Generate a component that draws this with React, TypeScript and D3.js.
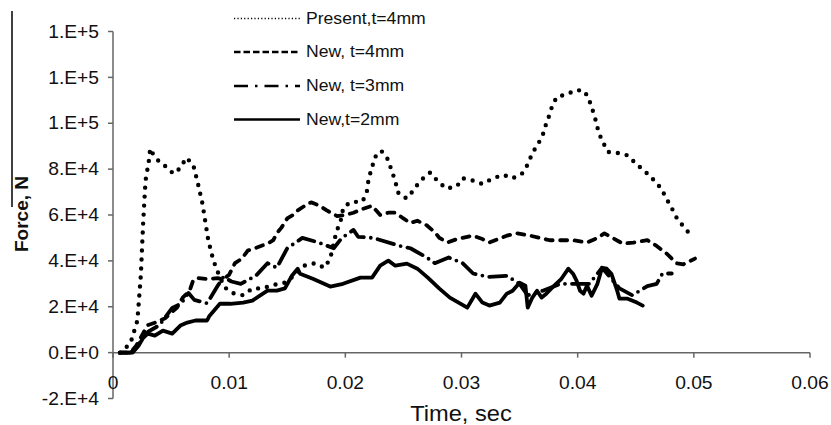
import React from 'react';
import * as d3 from 'd3';

// time (s), force (N)
const presentT4: [number, number][] = [
  [0.0006, 0], [0.0015, 4000], [0.0021, 14000], [0.0024, 34000], [0.0026, 57000], [0.0028, 75000],
  [0.0031, 84000], [0.0032, 89000], [0.0034, 87000], [0.004, 83000], [0.0046, 81000], [0.0052, 78000],
  [0.0058, 80500], [0.0063, 85000], [0.0069, 82000], [0.0073, 74000], [0.0077, 65000], [0.0082, 49000],
  [0.0086, 41000], [0.0089, 36500], [0.0096, 28500], [0.0103, 26000], [0.0112, 25000], [0.012, 28000],
  [0.0128, 28000], [0.0138, 29500], [0.0148, 30500], [0.0157, 34000], [0.0165, 38000], [0.0174, 39000],
  [0.0182, 37000], [0.0187, 41000], [0.0191, 50000], [0.0194, 55000], [0.0197, 59000], [0.0198, 63000],
  [0.0204, 65500], [0.0215, 66000], [0.0219, 71000], [0.022, 76000], [0.0223, 80500], [0.0225, 85000],
  [0.0231, 88000], [0.0237, 84000], [0.024, 79000], [0.0243, 75000], [0.0245, 70000], [0.0251, 67500],
  [0.0254, 67500], [0.026, 72000], [0.0267, 76000], [0.0273, 78500], [0.028, 74500], [0.0287, 71500],
  [0.0296, 72500], [0.0301, 76000], [0.031, 75000], [0.0318, 73500], [0.0327, 76000], [0.0336, 77500],
  [0.0344, 76000], [0.0352, 78000], [0.0357, 82000], [0.0361, 87000], [0.0366, 91000], [0.037, 95000],
  [0.0373, 100000], [0.0376, 104000], [0.0378, 107500], [0.0382, 111500], [0.039, 112500], [0.0399, 114500],
  [0.0406, 114000], [0.041, 110000], [0.0413, 105500], [0.0416, 100500], [0.0418, 96000], [0.0422, 91500],
  [0.0426, 87500], [0.0435, 87000], [0.0443, 86000], [0.0451, 82000], [0.0458, 79000], [0.0465, 75500],
  [0.0472, 71500], [0.0476, 67500], [0.0481, 63000], [0.0485, 59000], [0.0491, 55000], [0.0497, 51500],
];

const newT4: [number, number][] = [
  [0.0006, 0], [0.0015, 0], [0.002, 3000], [0.0026, 8500], [0.003, 12000], [0.0036, 13000], [0.004, 14000],
  [0.0045, 15000], [0.0049, 17000], [0.0055, 19500], [0.006, 24000], [0.0066, 27000], [0.0069, 31500],
  [0.0073, 32500], [0.0082, 32000], [0.009, 32500], [0.0095, 32000], [0.01, 34000], [0.0105, 39000],
  [0.0111, 41000], [0.0116, 44500], [0.0122, 45500], [0.0133, 47500], [0.0138, 49000], [0.0141, 52000],
  [0.0145, 54500], [0.015, 58500], [0.0155, 60000], [0.0159, 62000], [0.0168, 65000], [0.0171, 65500],
  [0.0178, 64000], [0.0184, 62000], [0.0193, 59500], [0.02, 60000], [0.0207, 61000], [0.0214, 62500],
  [0.0223, 64000], [0.023, 60000], [0.0237, 61000], [0.0243, 61000], [0.025, 58500], [0.0256, 56500],
  [0.0262, 57500], [0.027, 55500], [0.0277, 52500], [0.0281, 50000], [0.0288, 48000], [0.0296, 49500],
  [0.0305, 50500], [0.031, 51000], [0.0318, 49500], [0.0324, 48000], [0.0339, 51000], [0.0348, 52000],
  [0.0359, 51000], [0.0376, 49000], [0.0385, 49000], [0.0396, 49000], [0.0408, 48000], [0.0417, 50000],
  [0.0423, 52000], [0.043, 50000], [0.0439, 47500], [0.0448, 48000], [0.046, 49000], [0.0468, 46500],
  [0.0477, 43000], [0.0485, 39000], [0.0491, 38500], [0.0497, 40000], [0.0501, 41000],
];

const newT3: [number, number][] = [
  [0.0006, 0], [0.0015, 0], [0.002, 2000], [0.0025, 6000], [0.003, 9000], [0.004, 12000], [0.0051, 19500],
  [0.0059, 21500], [0.0062, 24000], [0.0065, 26000], [0.007, 23000], [0.0081, 21500], [0.009, 29000],
  [0.0095, 33000], [0.0102, 31000], [0.011, 30000], [0.0123, 33500], [0.0133, 39000], [0.0141, 37000],
  [0.015, 45500], [0.0163, 50000], [0.0177, 48000], [0.019, 45500], [0.0197, 50000], [0.0207, 53500],
  [0.0211, 50500], [0.0224, 50000], [0.0247, 46500], [0.0256, 45500], [0.027, 41500], [0.0277, 39000],
  [0.0289, 41500], [0.0301, 39000], [0.031, 34500], [0.0323, 33000], [0.0339, 33500], [0.035, 30000],
  [0.0357, 25000], [0.037, 27000], [0.0385, 30000], [0.041, 30000], [0.0421, 37000], [0.0436, 28000],
  [0.0447, 25000], [0.046, 29000], [0.0468, 30000], [0.0473, 34500], [0.0481, 34500],
];

const newT2: [number, number][] = [
  [0.0006, 0], [0.0017, 0], [0.0022, 3000], [0.0026, 6500], [0.003, 8300], [0.0036, 7400], [0.0043, 9600],
  [0.0051, 8300], [0.0058, 11800], [0.0064, 13100], [0.0071, 14000], [0.0081, 14000], [0.0083, 16000],
  [0.0092, 21300], [0.0101, 21300], [0.0112, 21800], [0.012, 22700], [0.0133, 27000], [0.0141, 27000],
  [0.0148, 28000], [0.0154, 33500], [0.0159, 36600], [0.0161, 34400], [0.0172, 32200], [0.0187, 28800],
  [0.0198, 30000], [0.0213, 32700], [0.0223, 32700], [0.023, 37900], [0.0237, 40100], [0.0243, 37900],
  [0.0253, 38800], [0.0262, 36600], [0.0271, 32700], [0.0281, 27900], [0.029, 24000], [0.0305, 19600],
  [0.0312, 25700], [0.0318, 21800], [0.0324, 20500], [0.0333, 21800], [0.0339, 25700], [0.0344, 27000],
  [0.035, 30500], [0.0355, 29200], [0.0357, 19600], [0.0361, 24000], [0.0365, 27000], [0.0369, 24000],
  [0.0373, 25700], [0.0378, 28300], [0.0386, 32200], [0.0392, 36600], [0.0396, 34400], [0.0399, 31400],
  [0.0402, 27000], [0.0405, 25700], [0.0408, 29200], [0.0412, 24800], [0.0417, 30000], [0.0421, 37000],
  [0.0425, 36600], [0.0429, 34400], [0.0434, 27000], [0.0436, 23500], [0.0443, 23500], [0.0451, 21800],
  [0.0456, 20500],
];

const xTicks = [0, 0.01, 0.02, 0.03, 0.04, 0.05, 0.06];
const yTicks = [-20000, 0, 20000, 40000, 60000, 80000, 100000, 120000, 140000];
const legendLabels = ['Present,t=4mm', 'New, t=4mm', 'New, t=3mm', 'New,t=2mm'];

const width = 831;
const height = 425;
const font = '"Liberation Sans", Arial, sans-serif';

const styles = [
  { dash: '0 9', w: 4.4, legendDash: '1.2 2.2', legendW: 1.5, legendCap: 'butt' },
  { dash: '7 7.5', w: 3.8, legendDash: '6.5 3', legendW: 2.4, legendCap: 'butt' },
  { dash: '17 7 0 7', w: 3.8, legendDash: '14 7 2.5 7', legendW: 2.6, legendCap: 'butt' },
  { dash: null, w: 3.8, legendDash: null, legendW: 2.6, legendCap: 'butt' },
];

const fmtY = (v: number) => v.toExponential(0).replace('e', '.E').toUpperCase();
const fmtX = (v: number) => (v === 0 ? '0' : d3.format('.2f')(v));

function Txt({ x, y, anchor = 'start', size, children, weight = 'normal', sx = 1.1 }: any) {
  return (
    <text
      transform={`translate(${x},${y}) scale(${sx},1)`}
      textAnchor={anchor}
      dominantBaseline="central"
      fontSize={size}
      fontFamily={font}
      fontWeight={weight}
      fill="#111"
    >
      {children}
    </text>
  );
}

export default function App() {
  const x = d3.scaleLinear().domain([0, 0.06]).range([113, 810]);
  const y = d3.scaleLinear().domain([-20000, 140000]).range([398.5, 31.5]);

  const line = d3.line<[number, number]>()
    .x(d => x(d[0]))
    .y(d => y(d[1]));

  const series = [presentT4, newT4, newT3, newT2];
  const axisColor = '#666';

  return (
    <svg width={width} height={height} style={{ position: 'absolute', left: 0, top: 0, background: '#fff' }}>
      {/* stray border line at left */}
      <line x1={12} x2={12} y1={11} y2={207} stroke="#000" strokeWidth={1.5} />

      {/* y axis */}
      <line x1={x(0)} x2={x(0)} y1={y(-20000)} y2={y(140000)} stroke={axisColor} strokeWidth={1.5} />
      {yTicks.map(t => (
        <g key={t}>
          <line x1={x(0) - 5} x2={x(0)} y1={y(t)} y2={y(t)} stroke={axisColor} strokeWidth={1.5} />
          <Txt x={99} y={y(t)} anchor="end" size={17.5}>{fmtY(t)}</Txt>
        </g>
      ))}

      {/* x axis at zero */}
      <line x1={x(0)} x2={x(0.06)} y1={y(0)} y2={y(0)} stroke={axisColor} strokeWidth={1.5} />
      {xTicks.map(t => (
        <g key={t}>
          <line x1={x(t)} x2={x(t)} y1={y(0)} y2={y(0) + 5} stroke={axisColor} strokeWidth={1.5} />
          <Txt x={x(t)} y={383} anchor="middle" size={17.5}>{fmtX(t)}</Txt>
        </g>
      ))}

      <Txt x={461} y={414} anchor="middle" size={21.5}>Time, sec</Txt>
      <text
        transform="translate(28,214) rotate(-90)"
        textAnchor="middle"
        fontSize={19}
        fontWeight="bold"
        fontFamily={font}
        fill="#111"
      >
        Force, N
      </text>

      {/* series */}
      {series.map((s, i) => (
        <path
          key={i}
          d={line(s) || ''}
          fill="none"
          stroke="#000"
          strokeWidth={styles[i].w}
          strokeDasharray={styles[i].dash || undefined}
          strokeLinecap="round"
          strokeLinejoin="round"
        />
      ))}

      {/* legend */}
      {legendLabels.map((lab, i) => {
        const ly = [18.5, 52, 86, 119.5][i];
        return (
          <g key={lab}>
            <line
              x1={234}
              x2={300}
              y1={ly}
              y2={ly}
              stroke="#000"
              strokeWidth={styles[i].legendW}
              strokeDasharray={styles[i].legendDash || undefined}
              strokeLinecap={styles[i].legendCap as any}
            />
            <Txt x={306} y={ly} size={16}>{lab}</Txt>
          </g>
        );
      })}
    </svg>
  );
}
